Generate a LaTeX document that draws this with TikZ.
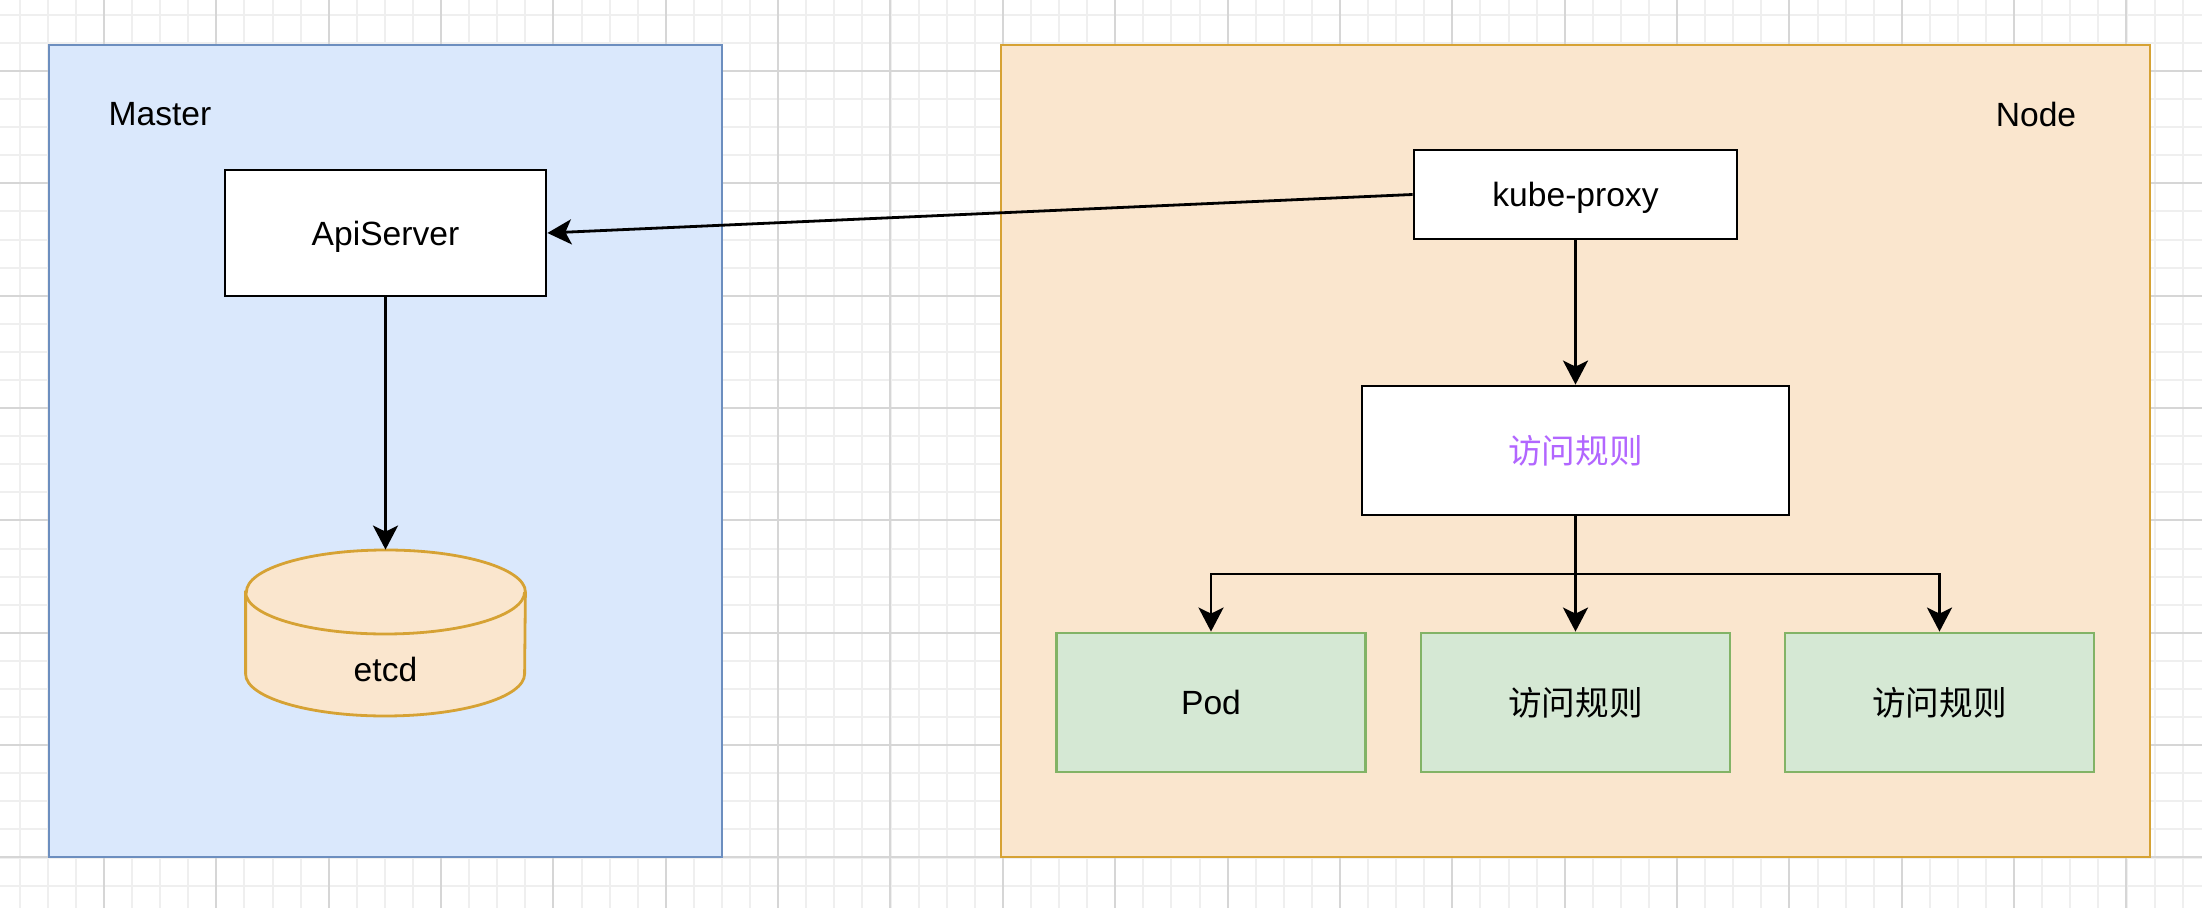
\documentclass[tikz,border=0pt]{standalone}
\usepackage{fontspec}
\setmainfont{Liberation Sans}
\newfontfamily\cjk{Noto Sans CJK SC}
\usetikzlibrary{arrows.meta}
\definecolor{masterfill}{HTML}{DAE8FC}
\definecolor{masterline}{HTML}{6C8EBF}
\definecolor{nodefill}{HTML}{FAE6CE}
\definecolor{nodeline}{HTML}{D6A234}
\definecolor{greenfill}{HTML}{D5E8D4}
\definecolor{greenline}{HTML}{82B366}
\definecolor{rulepurple}{HTML}{B266FF}
\definecolor{gridminor}{HTML}{EFEFEF}
\definecolor{gridmajor}{HTML}{D6D6D6}
\begin{document}
\begin{tikzpicture}[x=0.5pt,y=-0.5pt,
  every node/.style={font=\fontsize{16.8pt}{20pt}\selectfont, inner sep=0pt},
  group/.style={line width=1.4pt},
  whitebox/.style={draw=black, fill=white, line width=1.4pt},
  greenbox/.style={draw=greenline, fill=greenfill, line width=1.4pt, minimum width=154.5pt, minimum height=69.5pt},
  arr/.style={-{Stealth[length=12pt,width=12.5pt,inset=3pt]}, line width=1.4pt, black},
  gridline/.style={line width=1pt}
]
\fill[white] (0,0) rectangle (2202,908);
\useasboundingbox (0,0) rectangle (2202,908);
% grid
\foreach \i in {0,...,78} {\draw[gridline, gridminor] ({19.73+28.09*\i},0) -- ({19.73+28.09*\i},908);}
\foreach \j in {0,...,32} {\draw[gridline, gridminor] (0,{14.8+28.09*\j}) -- (2202,{14.8+28.09*\j});}
\foreach \i in {1,...,19} {\draw[gridline, gridmajor] ({-8.4+112.36*\i},0) -- ({-8.4+112.36*\i},908);}
\foreach \j in {1,...,8} {\draw[gridline, gridmajor] (0,{-41.4+112.36*\j}) -- (2202,{-41.4+112.36*\j});}

% groups
\node[group, draw=masterline, fill=masterfill, minimum width=336.5pt, minimum height=406pt] (master) at (385.5,451) {};
\node[group, draw=nodeline, fill=nodefill, minimum width=574.5pt, minimum height=406pt] (nodegrp) at (1575.5,451) {};
\node (masterlabel) at (160,114) {Master};
\node (nodelabel) at (2036,114) {Node};

% master content
\node[whitebox, minimum width=160.5pt, minimum height=63pt, text depth=0pt] (api) at (385.5,233) {ApiServer};
\node[minimum width=139.5pt, minimum height=83pt] (etcd) at (385.5,633) {};
\filldraw[draw=nodeline, fill=nodefill, line width=1.4pt]
  (etcd.west |- 0,592) -- (etcd.west |- 0,674)
  arc[start angle=180, end angle=360, x radius=69.75pt, y radius=21pt]
  -- (etcd.east |- 0,592)
  arc[start angle=0, end angle=180, x radius=69.75pt, y radius=21pt] -- cycle;
\draw[draw=nodeline, line width=1.4pt] (etcd.west |- 0,592)
  arc[start angle=180, end angle=360, x radius=69.75pt, y radius=21pt];
\node (etcdlabel) at (385.5,669) {etcd};

% node content
\node[whitebox, minimum width=161.5pt, minimum height=44.5pt, text depth=0pt] (kp) at (1575.5,194.5) {kube-proxy};
\node[whitebox, minimum width=213.5pt, minimum height=64.5pt, text=rulepurple, font=\cjk\fontsize{16.8pt}{20pt}\selectfont] (rule) at (1575.5,450.5) {访问规则};
\node[greenbox] (pod) at (1211,702.5) {Pod};
\node[greenbox, font=\cjk\fontsize{16.8pt}{20pt}\selectfont] (r2) at (1575.5,702.5) {访问规则};
\node[greenbox, font=\cjk\fontsize{16.8pt}{20pt}\selectfont] (r3) at (1939.5,702.5) {访问规则};
\coordinate (split) at (1575.5,574);

% connectors
\draw[arr] (kp.west) -- (api.east);
\draw[arr] (api.south) -- (etcd.north);
\draw[arr] (kp.south) -- (rule.north);
\draw[arr] (rule.south) -- (split) -| (pod.north);
\draw[arr] (rule.south) -- (r2.north);
\draw[arr] (rule.south) -- (split) -| (r3.north);
\end{tikzpicture}
\end{document}
